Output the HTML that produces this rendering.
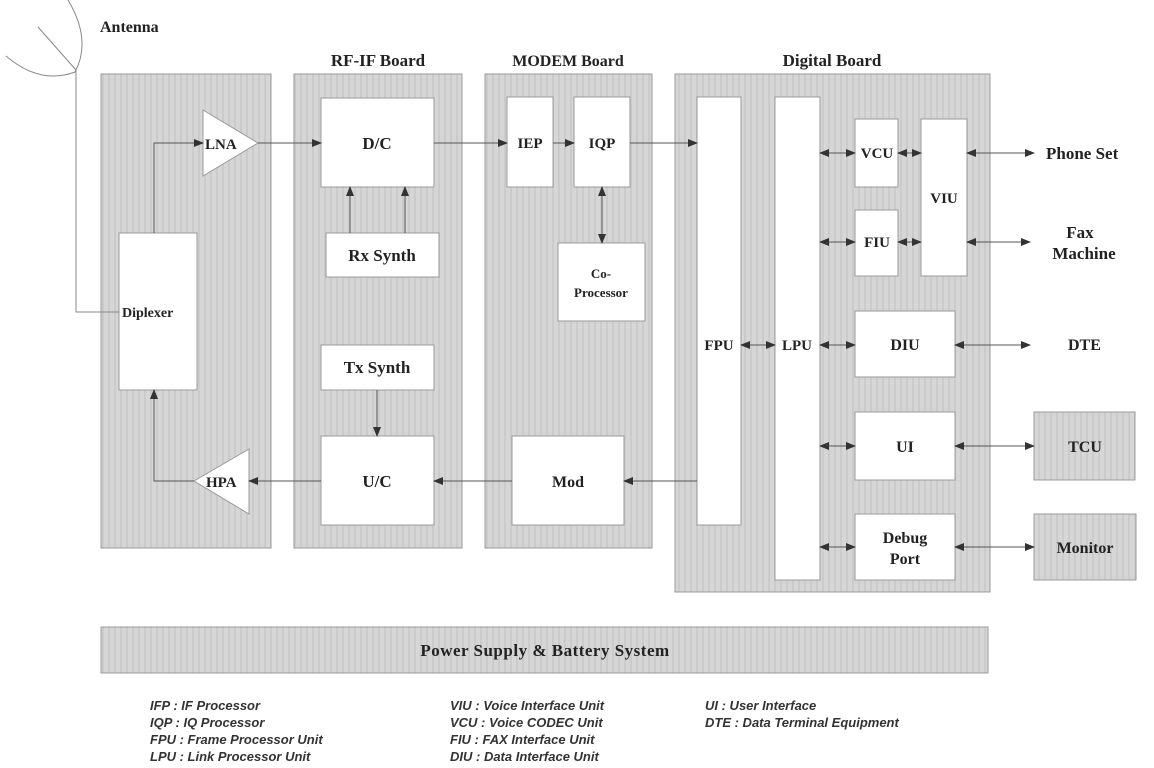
<!DOCTYPE html>
<html><head><meta charset="utf-8"><style>
body{margin:0;background:#fff}
svg{display:block}
.t{font-family:"Liberation Serif",serif;font-weight:bold;fill:#222}
.l{font-family:"Liberation Sans",sans-serif;font-style:italic;font-weight:bold;font-size:13px;fill:#333}
</style></head><body>
<svg width="1154" height="768" viewBox="0 0 1154 768">
<defs>
<pattern id="st" width="6" height="6" patternUnits="userSpaceOnUse">
<rect width="6" height="6" fill="#d6d6d6"/><rect width="2" height="6" fill="#cbcbcb"/>
</pattern>
<marker id="a" markerWidth="10" markerHeight="8" refX="9" refY="4" orient="auto" markerUnits="userSpaceOnUse">
<path d="M0,0 L10,4 L0,8z" fill="#333"/></marker>
<marker id="b" markerWidth="10" markerHeight="8" refX="1" refY="4" orient="auto" markerUnits="userSpaceOnUse">
<path d="M10,0 L0,4 L10,8z" fill="#333"/></marker>
</defs>
<g stroke="#999" stroke-width="1">
<rect x="101" y="74" width="170" height="474" fill="url(#st)"/>
<rect x="294" y="74" width="168" height="474" fill="url(#st)"/>
<rect x="485" y="74" width="167" height="474" fill="url(#st)"/>
<rect x="675" y="74" width="315" height="518" fill="url(#st)"/>
<rect x="101" y="627" width="887" height="46" fill="url(#st)"/>
<rect x="1034" y="412" width="101" height="68" fill="url(#st)"/>
<rect x="1034" y="514" width="102" height="66" fill="url(#st)"/>
</g>
<g fill="#fff" stroke="#999">
<rect x="119" y="233" width="78" height="157"/>
<rect x="321" y="98" width="113" height="89"/>
<rect x="326" y="233" width="113" height="44"/>
<rect x="321" y="345" width="113" height="45"/>
<rect x="321" y="436" width="113" height="89"/>
<rect x="507" y="97" width="46" height="90"/>
<rect x="574" y="97" width="56" height="90"/>
<rect x="558" y="243" width="87" height="78"/>
<rect x="512" y="436" width="112" height="89"/>
<rect x="697" y="97" width="44" height="428"/>
<rect x="775" y="97" width="45" height="483"/>
<rect x="855" y="119" width="43" height="68"/>
<rect x="855" y="210" width="43" height="66"/>
<rect x="921" y="119" width="46" height="157"/>
<rect x="855" y="311" width="100" height="66"/>
<rect x="855" y="412" width="100" height="68"/>
<rect x="855" y="514" width="100" height="66"/>
<polygon points="203,110 258,143 203,176"/>
<polygon points="249,449 194,481 249,514"/>
</g>
<g fill="none" stroke="#888" stroke-width="1">
<path d="M6,56 Q40,85 75,72 Q92,40 68,0"/>
<path d="M38,27 L76,70"/>
<path d="M76,70 V312 H119"/>
</g>
<g fill="none" stroke="#555" stroke-width="1">
<path d="M154,233 V143 H203" marker-end="url(#a)"/>
<path d="M258,143 H321" marker-end="url(#a)"/>
<path d="M434,143 H507" marker-end="url(#a)"/>
<path d="M553,143 H574" marker-end="url(#a)"/>
<path d="M630,143 H697" marker-end="url(#a)"/>
<path d="M602,187 V243" marker-start="url(#b)" marker-end="url(#a)"/>
<path d="M350,233 V187" marker-end="url(#a)"/>
<path d="M405,233 V187" marker-end="url(#a)"/>
<path d="M377,390 V436" marker-end="url(#a)"/>
<path d="M697,481 H624" marker-end="url(#a)"/>
<path d="M512,481 H434" marker-end="url(#a)"/>
<path d="M321,481 H249" marker-end="url(#a)"/>
<path d="M194,481 H154 V390" marker-end="url(#a)"/>
<path d="M741,345 H775" marker-start="url(#b)" marker-end="url(#a)"/>
<path d="M820,153 H855" marker-start="url(#b)" marker-end="url(#a)"/>
<path d="M898,153 H921" marker-start="url(#b)" marker-end="url(#a)"/>
<path d="M820,242 H855" marker-start="url(#b)" marker-end="url(#a)"/>
<path d="M898,242 H921" marker-start="url(#b)" marker-end="url(#a)"/>
<path d="M820,345 H855" marker-start="url(#b)" marker-end="url(#a)"/>
<path d="M820,446 H855" marker-start="url(#b)" marker-end="url(#a)"/>
<path d="M820,547 H855" marker-start="url(#b)" marker-end="url(#a)"/>
<path d="M967,153 H1034" marker-start="url(#b)" marker-end="url(#a)"/>
<path d="M967,242 H1030" marker-start="url(#b)" marker-end="url(#a)"/>
<path d="M955,345 H1030" marker-start="url(#b)" marker-end="url(#a)"/>
<path d="M955,446 H1034" marker-start="url(#b)" marker-end="url(#a)"/>
<path d="M955,547 H1034" marker-start="url(#b)" marker-end="url(#a)"/>
</g>
<g class="t" font-size="15">
<text x="100" y="32" font-size="16">Antenna</text>
<text x="378" y="66" text-anchor="middle" font-size="17">RF-IF Board</text>
<text x="568" y="66" text-anchor="middle" font-size="16">MODEM Board</text>
<text x="832" y="66" text-anchor="middle" font-size="17">Digital Board</text>
<text x="122" y="317" font-size="14">Diplexer</text>
<text x="205" y="149" font-size="15">LNA</text>
<text x="206" y="487" font-size="15">HPA</text>
<text x="377" y="149" text-anchor="middle" font-size="17">D/C</text>
<text x="382" y="261" text-anchor="middle" font-size="17">Rx Synth</text>
<text x="377" y="373" text-anchor="middle" font-size="17">Tx Synth</text>
<text x="377" y="487" text-anchor="middle" font-size="17">U/C</text>
<text x="530" y="148" text-anchor="middle" font-size="15">IEP</text>
<text x="602" y="148" text-anchor="middle" font-size="15">IQP</text>
<text x="601" y="278" text-anchor="middle" font-size="13">Co-</text>
<text x="601" y="297" text-anchor="middle" font-size="13">Processor</text>
<text x="568" y="487" text-anchor="middle" font-size="16">Mod</text>
<text x="719" y="350" text-anchor="middle" font-size="15">FPU</text>
<text x="797" y="350" text-anchor="middle" font-size="15">LPU</text>
<text x="877" y="158" text-anchor="middle" font-size="15">VCU</text>
<text x="877" y="247" text-anchor="middle" font-size="15">FIU</text>
<text x="944" y="203" text-anchor="middle" font-size="15">VIU</text>
<text x="905" y="350" text-anchor="middle" font-size="16">DIU</text>
<text x="905" y="452" text-anchor="middle" font-size="16">UI</text>
<text x="905" y="543" text-anchor="middle" font-size="16">Debug</text>
<text x="905" y="564" text-anchor="middle" font-size="16">Port</text>
<text x="1046" y="159" font-size="17">Phone Set</text>
<text x="1080" y="238" text-anchor="middle" font-size="17">Fax</text>
<text x="1084" y="259" text-anchor="middle" font-size="17">Machine</text>
<text x="1068" y="350" font-size="16">DTE</text>
<text x="1085" y="452" text-anchor="middle" font-size="16">TCU</text>
<text x="1085" y="553" text-anchor="middle" font-size="16">Monitor</text>
<text x="545" y="656" text-anchor="middle" font-size="17" letter-spacing="0.5">Power Supply &amp; Battery System</text>
</g>
<g class="l">
<text x="150" y="710">IFP : IF Processor</text>
<text x="150" y="727">IQP : IQ Processor</text>
<text x="150" y="744">FPU : Frame Processor Unit</text>
<text x="150" y="761">LPU : Link Processor Unit</text>
<text x="450" y="710">VIU : Voice Interface Unit</text>
<text x="450" y="727">VCU : Voice CODEC Unit</text>
<text x="450" y="744">FIU : FAX Interface Unit</text>
<text x="450" y="761">DIU : Data Interface Unit</text>
<text x="705" y="710">UI : User Interface</text>
<text x="705" y="727">DTE : Data Terminal Equipment</text>
</g>
</svg>
</body></html>
